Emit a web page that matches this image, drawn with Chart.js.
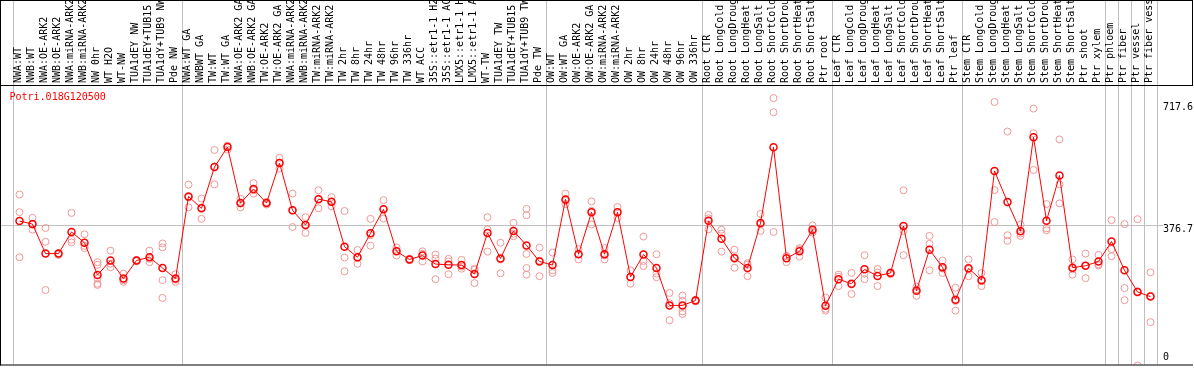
<!DOCTYPE html>
<html lang="en">
<head>
  <meta charset="UTF-8" />
  <title>Potri.018G120500</title>
  <script src="https://cdn.jsdelivr.net/npm/chart.js"></script>
  <style>
    body { margin: 0; background: #fff; }
    #geneChart { display: block; }
  </style>
</head>
<body>
  <canvas id="geneChart" width="1194" height="370"></canvas>

  <script>
    const geneName = 'Potri.018G120500';

    const samples = [
      'NWA:WT', 'NWB:WT', 'NWA:OE-ARK2', 'NWB:OE-ARK2', 'NWA:miRNA-ARK2', 'NWB:miRNA-ARK2',
      'NW 0hr', 'WT H2O', 'WT-NW', 'TUA1dEY NW', 'TUA1dEY+TUB15 NW', 'TUA1dY+TUB9 NW', 'Pde NW',
      'NWA:WT GA', 'NWBWT GA', 'TW:WT', 'TW:WT GA', 'NWA:OE-ARK2 GA', 'NWB:OE-ARK2 GA',
      'TW:OE-ARK2', 'TW:OE-ARK2 GA', 'NWA:miRNA-ARK2', 'NWB:miRNA-ARK2', 'TW:miRNA-ARK2', 'TW:miRNA-ARK2',
      'TW 2hr', 'TW 8hr', 'TW 24hr', 'TW 48hr', 'TW 96hr', 'TW 336hr', 'WT ACC',
      '35S::etr1-1 H2O', '35S::etr1-1 ACC', 'LMX5::etr1-1 H2O', 'LMX5::etr1-1 ACC',
      'WT-TW', 'TUA1dEY TW', 'TUA1dEY+TUB15 TW', 'TUA1dY+TUB9 TW', 'Pde TW',
      'OW:WT', 'OW:WT GA', 'OW:OE-ARK2', 'OW:OE-ARK2 GA', 'OW:miRNA-ARK2', 'OW:miRNA-ARK2',
      'OW 2hr', 'OW 8hr', 'OW 24hr', 'OW 48hr', 'OW 96hr', 'OW 336hr',
      'Root CTR', 'Root LongCold', 'Root LongDrought', 'Root LongHeat', 'Root LongSalt',
      'Root ShortCold', 'Root ShortDrought', 'Root ShortHeat', 'Root ShortSalt', 'Ptr root',
      'Leaf CTR', 'Leaf LongCold', 'Leaf LongDrought', 'Leaf LongHeat', 'Leaf LongSalt',
      'Leaf ShortCold', 'Leaf ShortDrought', 'Leaf ShortHeat', 'Leaf ShortSalt', 'Ptr leaf',
      'Stem CTR', 'Stem LongCold', 'Stem LongDrought', 'Stem LongHeat', 'Stem LongSalt',
      'Stem ShortCold', 'Stem ShortDrought', 'Stem ShortHeat', 'Stem ShortSalt',
      'Ptr shoot', 'Ptr xylem', 'Ptr phloem', 'Ptr fiber', 'Ptr vessel', 'Ptr fiber vessel'
    ];

    // mean expression per sample
    const meanValues = [
      388.7, 380.8, 301.8, 301.8, 359.7, 330.8, 244.7, 283.4, 235.0, 283.4, 292.1, 263.2, 235.0,
      454.5, 422.9, 533.4, 586.8, 436.8, 474.5, 436.8, 543.9, 417.6, 378.2, 447.4, 440.3,
      320.3, 292.1, 356.1, 420.3, 307.9, 286.1, 296.6, 273.7, 271.8, 271.1, 247.4,
      357.1, 288.7, 362.4, 323.7, 280.8,
      271.1, 446.6, 300.0, 412.4, 300.0, 412.4, 239.5, 299.2, 263.2, 163.2, 163.2, 176.3,
      389.5, 341.3, 289.5, 263.2, 383.4, 586.1, 289.5, 307.9, 365.8, 162.4,
      233.4, 221.1, 259.7, 242.1, 250.0, 375.5, 202.6, 312.4, 265.0, 178.2,
      262.4, 230.8, 522.9, 439.5, 361.3, 613.2, 389.5, 510.5, 264.0, 269.2, 280.8,
      334.2, 257.1, 199.2, 186.8
    ];

    // individual replicates per sample
    const replicates = [
      [459.7, 412.4, 292.1], [397.4, 379.0, 365.8], [370.3, 333.4, 204.5], [303.0, 301.0, 298.0],
      [410.5, 338.7, 331.6], [353.4, 322.4, 316.6], [278.9, 271.8, 235.0, 221.1, 218.0],
      [309.7, 275.0, 265.0], [248.2, 230.5, 226.3], [285.0, 284.0, 281.0], [309.7, 287.7, 278.9],
      [329.0, 318.4, 230.8, 183.4], [246.6, 232.0, 226.3],
      [486.1, 452.0, 425.5], [449.2, 425.0, 394.7], [578.9, 534.0, 486.8], [590.0, 590.0, 580.0],
      [448.2, 436.0, 425.5], [490.3, 471.0, 462.4], [440.0, 437.0, 433.0], [557.9, 545.0, 529.0],
      [462.4, 417.0, 372.9], [399.2, 378.0, 357.1], [471.1, 448.0, 422.9], [452.6, 440.0, 428.2],
      [415.8, 291.3, 254.5], [311.3, 290.0, 274.5], [394.7, 351.0, 322.9], [444.7, 421.0, 395.5],
      [318.4, 309.0, 296.6], [288.0, 286.0, 284.0], [307.9, 301.1, 280.8], [299.2, 288.5, 233.4],
      [287.6, 281.0, 246.6], [285.0, 267.0, 261.3], [261.3, 258.0, 222.9], [399.2, 366.6, 307.1],
      [330.8, 286.0, 249.2], [384.2, 355.0, 348.2], [421.1, 404.5, 300.8, 263.2, 245.5],
      [317.6, 283.0, 241.3],
      [304.5, 257.1, 250.0], [462.4, 443.0, 434.2], [313.9, 300.0, 286.1], [441.3, 416.0, 379.7],
      [316.6, 297.0, 286.1], [426.3, 413.0, 397.4], [257.1, 240.0, 221.1], [347.4, 282.0, 268.4],
      [300.0, 248.2, 238.7], [196.6, 169.0, 123.7], [189.5, 175.6, 147.4, 140.3], [178.0, 177.0, 174.0],
      [405.3, 396.0, 366.6], [365.8, 355.3, 307.1], [312.4, 292.0, 264.0], [276.3, 272.0, 241.3],
      [407.9, 380.0, 362.4], [717.6, 679.7, 359.7], [295.0, 294.7, 278.9], [316.6, 313.0, 294.0],
      [377.1, 362.0, 357.9], [184.2, 154.0, 149.2],
      [245.5, 240.0, 215.0], [250.0, 219.0, 193.9], [297.4, 248.0, 233.4], [260.5, 251.0, 215.0],
      [252.0, 251.0, 247.0], [471.1, 362.4, 297.4], [213.2, 206.0, 188.7], [349.2, 328.2, 257.1],
      [283.4, 262.0, 250.0], [210.5, 175.0, 149.2],
      [286.1, 260.0, 241.3], [250.0, 228.0, 215.0], [707.1, 471.8, 386.0], [628.2, 350.8, 336.1],
      [379.7, 355.3, 349.0], [689.5, 623.7, 525.5], [434.2, 369.2, 364.0], [607.1, 486.8, 436.1],
      [286.1, 260.0, 245.5], [301.8, 270.0, 236.1], [298.2, 273.0, 270.3],
      [391.3, 313.9, 294.7], [380.8, 209.7, 177.1], [393.9, 201.0, 2.6], [251.8, 188.7, 118.4]
    ];

    const axisTicks = [0, 376.7, 717.6];
    // sample indexes where a group starts (88 = right end)
    const groupEdges = [0, 13, 41, 53, 63, 73, 84, 85, 86, 87, 88];

    const grey = '#c0c0c0';
    const mono = { family: 'DejaVu Sans Mono', size: 10 };
    const yMin = 5.26, yMax = 752.6;

    const maxReps = Math.max(...replicates.map(r => r.length));
    const repSets = [];
    for (let k = 0; k < maxReps; k++) {
      repSets.push({
        label: 'replicate ' + (k + 1),
        data: replicates.map(r => (r[k] === undefined ? null : r[k])),
        showLine: false,
        pointRadius: 3.5,
        pointBorderWidth: 1,
        pointBorderColor: '#f09898',
        pointBackgroundColor: 'transparent'
      });
    }

    const meanSet = {
      label: geneName,
      data: meanValues,
      borderColor: '#ff0000',
      borderWidth: 1,
      tension: 0,
      pointRadius: 3.5,
      pointBorderWidth: 1.5,
      pointBorderColor: '#ff0000',
      pointBackgroundColor: 'transparent'
    };

    // label shift relative to its tick (px), done with an empty second line
    function labelShift(v) {
      if (v === 0) return -9.3;
      if (v === 376.7) return 4.2;
      return 9.7;
    }

    const framePlugin = {
      id: 'frame',
      afterDraw(chart) {
        const c = chart.ctx, a = chart.chartArea;
        c.save();
        c.fillStyle = '#000';
        c.fillRect(0, 0, 1, a.bottom + 1);
        c.fillRect(0, 0, 1193, 1);
        c.fillRect(0, a.top, 1193, 1);
        c.fillRect(0, a.bottom, 1193, 1);
        c.fillRect(1192, 0, 1, a.top);
        c.fillStyle = '#ff0000';
        c.font = '10px "DejaVu Sans Mono"';
        c.textBaseline = 'middle';
        c.fillText(geneName, a.left - 3.5, a.top + 12);
        c.restore();
      }
    };

    new Chart(document.getElementById('geneChart').getContext('2d'), {
      type: 'line',
      data: { labels: samples, datasets: [meanSet, ...repSets] },
      options: {
        responsive: false,
        animation: false,
        events: [],
        layout: { padding: { left: 1, right: 0, top: 0, bottom: 1 } },
        plugins: { legend: { display: false }, tooltip: { enabled: false } },
        scales: {
          x: {
            position: 'top',
            offset: true,
            border: { display: false },
            grid: {
              offset: true,
              tickLength: 85,
              color: c => (c.index === undefined || groupEdges.includes(c.index)) ? grey : 'transparent'
            },
            ticks: {
              autoSkip: false,
              minRotation: 90,
              maxRotation: 90,
              padding: -83,
              labelOffset: 11,
              color: '#000',
              font: mono
            },
            afterFit: s => { s.height = 85; s.paddingLeft = 0; s.paddingRight = 0; }
          },
          y: {
            position: 'left',
            min: yMin,
            max: yMax,
            border: { display: false },
            grid: { color: grey, tickLength: 12 },
            ticks: { display: false },
            afterBuildTicks: s => { s.ticks = [{ value: axisTicks[1] }]; },
            afterFit: s => { s.width = 12; s.paddingTop = 0; s.paddingBottom = 0; }
          },
          yRight: {
            position: 'right',
            min: yMin,
            max: yMax,
            border: { display: false },
            grid: {
              tickLength: 6,
              color: c => (c.tick && c.tick.value === axisTicks[1]) ? grey : 'transparent'
            },
            ticks: {
              padding: 0,
              color: '#000',
              callback: v => (labelShift(v) < 0 ? [String(v), ''] : ['', String(v)]),
              font: c => ({
                family: mono.family,
                size: mono.size,
                lineHeight: (2 * Math.abs(labelShift(c.tick ? c.tick.value : 717.6))) + 'px'
              })
            },
            afterBuildTicks: s => { s.ticks = axisTicks.map(v => ({ value: v })); },
            afterFit: s => { s.width = 37; s.paddingTop = 0; s.paddingBottom = 0; }
          }
        }
      },
      plugins: [framePlugin]
    });
  </script>
</body>
</html>
